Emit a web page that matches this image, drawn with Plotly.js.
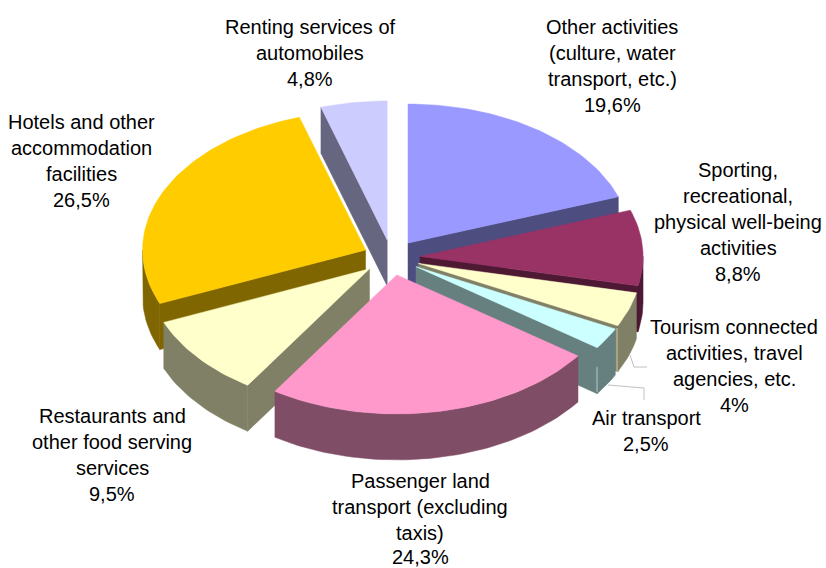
<!DOCTYPE html>
<html>
<head>
<meta charset="utf-8">
<script src="https://cdn.plot.ly/plotly-3.0.1.min.js"></script>
<style>html,body{margin:0;padding:0;background:#fff}#chart{width:826px;height:568px}</style>
</head>
<body>
<div id="chart"></div>
<script>
// Data, clockwise from 12 o'clock
const categories = ["Other activities", "Sporting, recreational, physical well-being activities", "Tourism connected activities", "Air transport", "Passenger land transport", "Restaurants and other food serving services", "Hotels and other accommodation facilities", "Renting services of automobiles"];
const shares = [19.6, 8.8, 4, 2.5, 24.3, 9.5, 26.5, 4.8];
const topColors = ["#9999ff", "#993366", "#ffffcc", "#ccffff", "#ff99cc", "#ffffcc", "#ffcc00", "#ccccff"];
const sideColors = ["#4d4d80", "#4d1933", "#808066", "#668080", "#804d66", "#808066", "#806600", "#666680"];
const labelLines = [
  ["Other activities", "(culture, water", "transport, etc.)"],
  ["Sporting,", "recreational,", "physical well-being", "activities"],
  ["Tourism connected", "activities, travel", "agencies, etc."],
  ["Air transport"],
  ["Passenger land", "transport (excluding", "taxis)"],
  ["Restaurants and", "other food serving", "services"],
  ["Hotels and other", "accommodation", "facilities"],
  ["Renting services of", "automobiles"]
];
const labelCentreX = [612, 738, 734, 646, 420, 112, 81, 310];
const labelFirstY = [27, 170, 327, 418, 481, 416, 122, 27];
const drawOrder = [7, 0, 6, 1, 2, 3, 5, 4];

// Projection of the tilted pie
const CX = 391.5, CY = 257.5, PULLX = 28.6, PULLY = 17.7, RX = 223, RY = 139, DEPTH = 46, LINE_GAP = 26, MAX_LABEL_Y = 556.5;

const total = shares.reduce((a, b) => a + b, 0);
const angle = v => v / total * 2 * Math.PI;
let run = 0;
const slices = shares.map(s => { const a0 = angle(run); run += s; return { a0, a1: angle(run) }; });

const traces = [];
function poly(pts, color, name, hover) {
  traces.push({ x: pts.map(p => p[0]), y: pts.map(p => p[1]), type: "scatter", mode: "lines", fill: "toself",
    fillcolor: color, line: { color, width: 0.5 }, name, hoverinfo: hover ? "name" : "skip", showlegend: false });
}

drawOrder.forEach(i => {
  const { a0, a1 } = slices[i], mid = (a0 + a1) / 2;
  const ax = CX + PULLX * Math.sin(mid), ay = CY - PULLY * Math.cos(mid);
  const at = t => [ax + RX * Math.sin(t), ay - RY * Math.cos(t)];
  const down = p => [p[0], p[1] + DEPTH];
  const sweep = (from, to) => {
    const n = Math.max(4, Math.round((to - from) * 40)), out = [];
    for (let k = 0; k <= n; k++) out.push(at(from + (to - from) * k / n));
    return out;
  };
  // cut faces that look towards the viewer
  const face = t => { const e = at(t); poly([[ax, ay], e, down(e), [ax, ay + DEPTH], [ax, ay]], sideColors[i], categories[i] + " side"); };
  if (Math.sin(a0) < 0) face(a0);
  if (Math.sin(a1) > 0) face(a1);
  // rim: only the near half of the ellipse shows
  const from = Math.max(a0, Math.PI / 2), to = Math.min(a1, 3 * Math.PI / 2);
  if (to > from) {
    const rim = sweep(from, to);
    poly(rim.concat(rim.slice().reverse().map(down)).concat([rim[0]]), sideColors[i], categories[i] + " rim");
  }
  // top surface
  poly([[ax, ay]].concat(sweep(a0, a1), [[ax, ay]]), topColors[i], categories[i], true);
});

const annotations = [];
labelLines.forEach((lines, i) => {
  lines.concat([String(shares[i]).replace(".", ",") + "%"]).forEach((text, k) => {
    annotations.push({ x: labelCentreX[i], y: Math.min(labelFirstY[i] + k * LINE_GAP, MAX_LABEL_Y), xref: "x", yref: "y", text,
      showarrow: false, xanchor: "center", yanchor: "middle", borderpad: 0,
      font: { family: "Liberation Sans, Arial, sans-serif", size: 20, color: "#000000" } });
  });
});

const layout = {
  width: 826, height: 568, margin: { l: 0, r: 0, t: 0, b: 0 },
  paper_bgcolor: "#ffffff", plot_bgcolor: "#ffffff", showlegend: false,
  xaxis: { range: [0, 826], visible: false, fixedrange: true },
  yaxis: { range: [568, 0], visible: false, fixedrange: true },
  annotations,
  shapes: [
    { type: "path", xref: "x", yref: "y", path: "M630,355 L634,367 L647,367", line: { color: "#c0c0c0", width: 1 } },
    { type: "path", xref: "x", yref: "y", path: "M608,385 L644,388 L644,400", line: { color: "#c0c0c0", width: 1 } },
    { type: "line", xref: "x", yref: "y", x0: 597, x1: 597, y0: 367, y1: 392, line: { color: "#b4c4c4", width: 1 } },
    { type: "line", xref: "x", yref: "y", x0: 617, x1: 617, y0: 328, y1: 372, line: { color: "#c8c8a0", width: 1 } }
  ]
};
Plotly.newPlot("chart", traces, layout, { displayModeBar: false, staticPlot: true });
</script>
</body>
</html>
